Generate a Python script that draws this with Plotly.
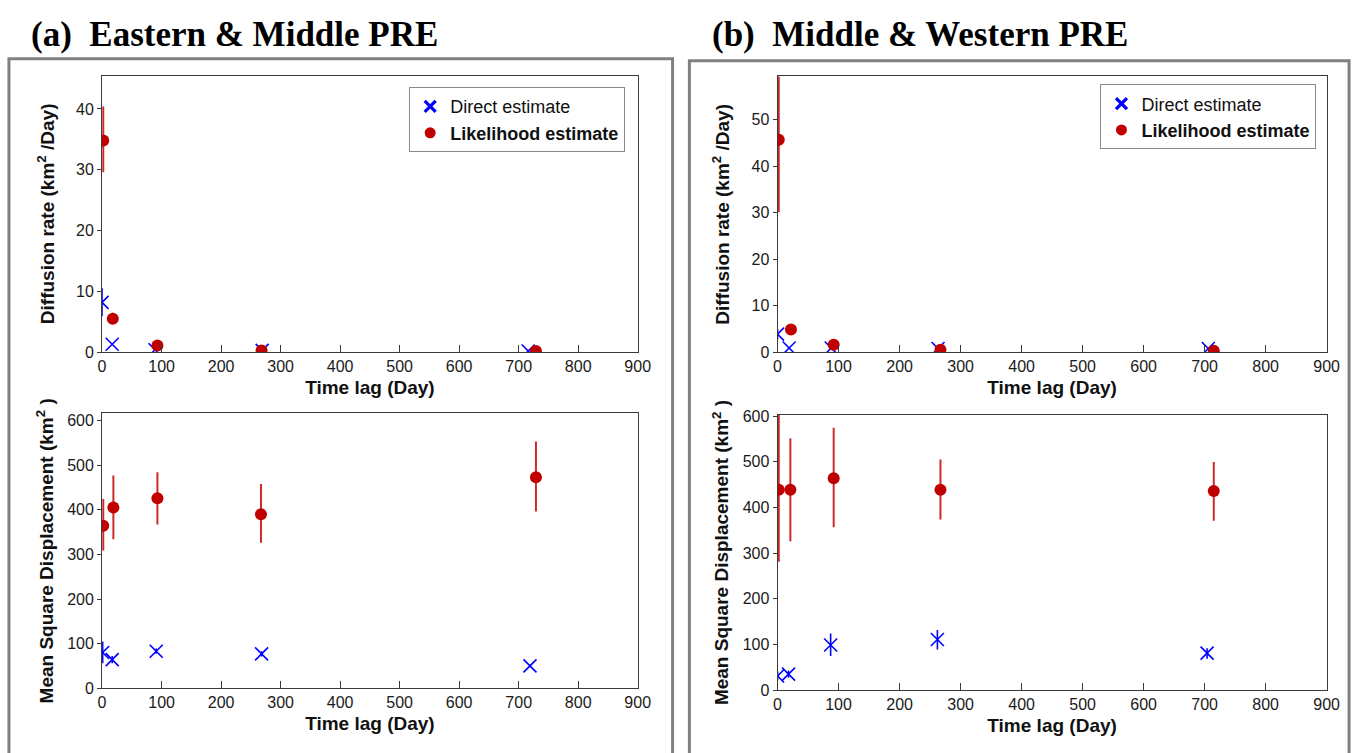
import plotly.graph_objects as go

W, H = 1367, 753

# ---------------- data ----------------
# Panel (a) Eastern & Middle PRE -- diffusion rate
a_dr_direct_x = [0, 17, 89, 269, 716]
a_dr_direct_y = [8.2, 1.3, 0.4, 0.3, 0.2]
a_dr_direct_lo = [5.9, 1.3, 0.4, 0.3, 0.2]
a_dr_direct_hi = [10.5, 1.3, 0.4, 0.3, 0.2]
a_dr_lik_x = [2, 18, 93, 268, 729]
a_dr_lik_y = [34.8, 5.5, 1.1, 0.3, 0.2]
a_dr_lik_lo = [29.6, 5.0, 0.9, 0.2, 0.1]
a_dr_lik_hi = [40.4, 6.5, 1.3, 0.4, 0.3]

# Panel (a) -- mean square displacement
a_msd_direct_x = [1, 17, 91, 268, 719]
a_msd_direct_y = [80, 64, 83, 77, 50]
a_msd_direct_lo = [56, 56, 77, 71, 47]
a_msd_direct_hi = [105, 72, 89, 83, 53]
a_msd_lik_x = [2, 19, 93, 267, 729]
a_msd_lik_y = [364, 405, 426, 390, 473]
a_msd_lik_lo = [309, 334, 367, 326, 396]
a_msd_lik_hi = [424, 477, 484, 458, 553]

# Panel (b) Middle & Western PRE -- diffusion rate
b_dr_direct_x = [0, 19, 88, 263, 706]
b_dr_direct_y = [3.9, 0.9, 0.9, 0.8, 0.8]
b_dr_direct_lo = [2.8, 0.9, 0.9, 0.8, 0.8]
b_dr_direct_hi = [5.0, 0.9, 0.9, 0.8, 0.8]
b_dr_lik_x = [2, 22, 92, 267, 715]
b_dr_lik_y = [45.7, 4.9, 1.6, 0.55, 0.3]
b_dr_lik_lo = [30.1, 4.6, 1.3, 0.4, 0.2]
b_dr_lik_hi = [66.0, 5.2, 1.9, 0.7, 0.4]

# Panel (b) -- mean square displacement
b_msd_direct_x = [0, 18, 87, 262, 704]
b_msd_direct_y = [31, 35, 99, 111, 81]
b_msd_direct_lo = [22, 27, 75, 89, 69]
b_msd_direct_hi = [41, 43, 124, 132, 92]
b_msd_lik_x = [2, 21, 92, 267, 715]
b_msd_lik_y = [439, 439, 464, 439, 436]
b_msd_lik_lo = [281, 326, 357, 374, 371]
b_msd_lik_hi = [640, 552, 575, 505, 500]

x_ticks = [0, 100, 200, 300, 400, 500, 600, 700, 800, 900]
dr_a_ticks = [0, 10, 20, 30, 40]
dr_b_ticks = [0, 10, 20, 30, 40, 50]
msd_ticks = [0, 100, 200, 300, 400, 500, 600]

titles = ["(a)\u00a0\u00a0Eastern & Middle PRE", "(b)\u00a0\u00a0Middle & Western PRE"]
legend_names = ["Direct estimate", "<b>Likelihood estimate</b>"]
dr_title = "<b>Diffusion rate (km<sup>2</sup> /Day)</b>"
msd_title = "<b>Mean Square Displacement (km<sup>2</sup> )</b>"
x_title = "<b>Time lag (Day)</b>"

# ---------------- style ----------------
BLUE = "#0000ff"
RED = "#c00000"
RED_ERR = "#cc2b2b"
FONT = "Liberation Sans, Arial, sans-serif"


def px_x(p):
    return p / W


def px_y(p):
    return 1 - p / H


fig = go.Figure()


def add_pair(xa, ya, dx, dy, dlo, dhi, lx, ly, llo, lhi):
    fig.add_trace(go.Scatter(
        x=dx, y=dy, mode="markers", xaxis=xa, yaxis=ya, showlegend=False,
        marker=dict(symbol="x-thin", size=13, line=dict(color=BLUE, width=1.6), color=BLUE),
        error_y=dict(type="data", symmetric=False,
                     array=[h - v for h, v in zip(dhi, dy)],
                     arrayminus=[v - l for l, v in zip(dlo, dy)],
                     color=BLUE, thickness=1.6, width=0),
    ))
    fig.add_trace(go.Scatter(
        x=lx, y=ly, mode="markers", xaxis=xa, yaxis=ya, showlegend=False,
        marker=dict(symbol="circle", size=12, color=RED),
        error_y=dict(type="data", symmetric=False,
                     array=[h - v for h, v in zip(lhi, ly)],
                     arrayminus=[v - l for l, v in zip(llo, ly)],
                     color=RED_ERR, thickness=2, width=0),
    ))


add_pair("x", "y", a_dr_direct_x, a_dr_direct_y, a_dr_direct_lo, a_dr_direct_hi,
         a_dr_lik_x, a_dr_lik_y, a_dr_lik_lo, a_dr_lik_hi)
add_pair("x2", "y2", a_msd_direct_x, a_msd_direct_y, a_msd_direct_lo, a_msd_direct_hi,
         a_msd_lik_x, a_msd_lik_y, a_msd_lik_lo, a_msd_lik_hi)
add_pair("x3", "y3", b_dr_direct_x, b_dr_direct_y, b_dr_direct_lo, b_dr_direct_hi,
         b_dr_lik_x, b_dr_lik_y, b_dr_lik_lo, b_dr_lik_hi)
add_pair("x4", "y4", b_msd_direct_x, b_msd_direct_y, b_msd_direct_lo, b_msd_direct_hi,
         b_msd_lik_x, b_msd_lik_y, b_msd_lik_lo, b_msd_lik_hi)

# legend-only entries
for lg, xa, ya in [("legend", "x", "y"), ("legend2", "x3", "y3")]:
    fig.add_trace(go.Scatter(x=[None], y=[None], mode="markers", xaxis=xa, yaxis=ya,
                             name=legend_names[0], legend=lg,
                             marker=dict(symbol="x-thin", size=11, line=dict(color=BLUE, width=3.2))))
    fig.add_trace(go.Scatter(x=[None], y=[None], mode="markers", xaxis=xa, yaxis=ya,
                             name=legend_names[1], legend=lg,
                             marker=dict(symbol="circle", size=11, color=RED)))

AX_COLOR = "#3a3a3a"


def xaxis_cfg(domain, anchor):
    return dict(domain=domain, anchor=anchor, range=[0, 900], tickvals=x_ticks,
                ticks="inside", ticklen=7, tickcolor=AX_COLOR, showline=True, linecolor=AX_COLOR,
                linewidth=1, mirror=True, showgrid=False, zeroline=False,
                tickfont=dict(family=FONT, size=16, color="#1a1a1a"),
                title=dict(text=x_title, font=dict(family=FONT, size=19, color="#111"), standoff=6))


def yaxis_cfg(domain, anchor, rng, ticks, title, standoff):
    return dict(domain=domain, anchor=anchor, range=rng, tickvals=ticks,
                ticks="outside", ticklen=4, tickcolor=AX_COLOR, showline=True, linecolor=AX_COLOR,
                linewidth=1, mirror=True, showgrid=False, zeroline=False,
                tickfont=dict(family=FONT, size=16, color="#1a1a1a"),
                title=dict(text=title, font=dict(family=FONT, size=19, color="#111"), standoff=standoff))


lx = [px_x(99.3), px_x(641.7)]
rx = [px_x(783.3), px_x(1339.3)]

fig.update_layout(
    width=W, height=H, margin=dict(l=0, r=0, t=0, b=0),
    paper_bgcolor="white", plot_bgcolor="white",
    xaxis=xaxis_cfg(lx, "y"),
    yaxis=yaxis_cfg([px_y(352.7), px_y(70)], "x", [0, 45.5], dr_a_ticks, dr_title, 16),
    xaxis2=xaxis_cfg(lx, "y2"),
    yaxis2=yaxis_cfg([px_y(696), px_y(415.3)], "x2", [0, 616], msd_ticks, msd_title, 8),
    xaxis3=xaxis_cfg(rx, "y3"),
    yaxis3=yaxis_cfg([px_y(352.7), px_y(71)], "x3", [0, 59.3], dr_b_ticks, dr_title, 16),
    xaxis4=xaxis_cfg(rx, "y4"),
    yaxis4=yaxis_cfg([px_y(698), px_y(416.7)], "x4", [0, 603], msd_ticks, msd_title, 8),
    legend=dict(x=px_x(629), xanchor="right", y=px_y(82), yanchor="top",
                bgcolor="white", bordercolor="#888", borderwidth=1,
                font=dict(family=FONT, size=18, color="#111"), itemwidth=30),
    legend2=dict(x=px_x(1329), xanchor="right", y=px_y(79), yanchor="top",
                 bgcolor="white", bordercolor="#888", borderwidth=1,
                 font=dict(family=FONT, size=18, color="#111"), itemwidth=30),
    showlegend=True,
)

# panel frames
fig.add_shape(type="rect", xref="paper", yref="paper",
              x0=px_x(5), x1=px_x(677), y0=-0.05, y1=px_y(53),
              line=dict(color="#808080", width=3), layer="below")
fig.add_shape(type="rect", xref="paper", yref="paper",
              x0=px_x(694), x1=px_x(1362), y0=-0.05, y1=px_y(55),
              line=dict(color="#808080", width=3), layer="below")

# panel titles
for t, x0 in zip(titles, [25, 715]):
    fig.add_annotation(text="<b>" + t + "</b>", xref="paper", yref="paper",
                       x=px_x(x0), y=px_y(28), xanchor="left", yanchor="middle",
                       showarrow=False,
                       font=dict(family="Liberation Serif, Times New Roman, serif", size=35, color="black"))

fig.write_html("out.html")
